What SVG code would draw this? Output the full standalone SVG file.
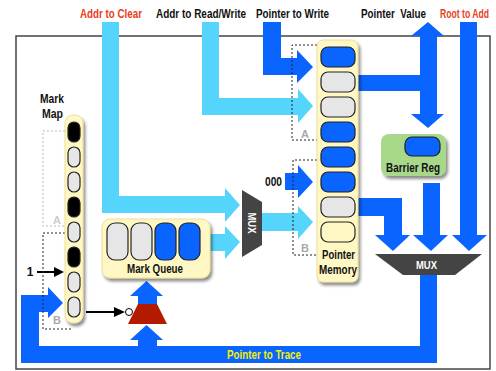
<svg xmlns="http://www.w3.org/2000/svg" width="496" height="371" viewBox="0 0 496 371">
<defs>
<filter id="sh" x="-20%" y="-20%" width="160%" height="160%"><feDropShadow dx="2" dy="3" stdDeviation="1.8" flood-color="#000" flood-opacity="0.45"/></filter>
<style>
.t{font-family:"Liberation Sans",Arial,sans-serif;font-weight:bold;font-size:12px;fill:#111}
.red{fill:#e8401c}
.lb{fill:#55d4fc}
.b{fill:#0a64ff}
.cellG{fill:#e6e6e6;stroke:#222;stroke-width:1.2}
.cellB{fill:#0a64ff;stroke:#222;stroke-width:1.2}
.cellK{fill:#000;stroke:#222;stroke-width:1.2}
.cellY{fill:#fff8c4;stroke:#222;stroke-width:1.2}
.yel{fill:#fff8c4;stroke:#e6d98a;stroke-width:0.8}
.dash{fill:none;stroke:#222;stroke-width:1;stroke-dasharray:2,2}
.ldash{fill:none;stroke:#bbb;stroke-width:1;stroke-dasharray:2,2}
.lbl{font-family:"Liberation Sans",Arial,sans-serif;font-weight:bold;font-size:11px;fill:#aaa}
.mux{fill:#444}
.mt{font-family:"Liberation Sans",Arial,sans-serif;font-weight:bold;font-size:11px;fill:#fff}
</style>
</defs>
<rect x="16" y="36" width="474" height="333" fill="#fff" stroke="#444" stroke-width="1.5"/>

<g id="labels">
<text class="t red" x="80" y="18" textLength="62" lengthAdjust="spacingAndGlyphs">Addr to Clear</text>
<text class="t" x="156" y="18" textLength="90" lengthAdjust="spacingAndGlyphs">Addr to Read/Write</text>
<text class="t" x="256" y="18" textLength="73" lengthAdjust="spacingAndGlyphs">Pointer to Write</text>
<text class="t" x="361" y="18" textLength="65" lengthAdjust="spacingAndGlyphs" xml:space="preserve">Pointer  Value</text>
<g transform="translate(440,18) scale(0.72,1)"><text class="t red" x="0" y="0">Root to Add</text></g>
</g>

<g id="connectors">
<polygon class="lb" points="102,22 119,22 119,196 225,196 225,188 240,205 225,222 225,213 102,213"/>
<polygon class="lb" points="202,22 219,22 219,98 298,98 298,89 313,106 298,123 298,115 202,115"/>
<polygon class="b" points="263,22 281,22 281,58 297,58 297,50 313,67 297,83 297,75 263,75"/>
<polygon class="lb" points="205,234 225,234 225,226 240,242 225,259 225,251 205,251"/>
<polygon class="lb" points="262,213 298,213 298,206 313,222 298,239 298,231 262,231"/>
<polygon class="b" points="285,173 298,173 298,165 313,182 298,198 298,190 285,190"/>
<rect class="b" x="356" y="75" width="66" height="16"/>
<polygon class="b" points="428,22 444,36 437,36 437,114 444,114 428,128 411,114 420,114 420,36 411,36"/>
<polygon class="b" points="356,198 402,198 402,235 410,235 393,251 375,235 384,235 384,216 356,216"/>
<polygon class="b" points="423,183 440,183 440,235 448,235 431,251 413,235 423,235"/>
<polygon class="b" points="460,22 477,22 477,235 487,235 469,251 452,235 460,235"/>
<polygon class="b" points="420,274 437,274 437,363 21,363 21,295 48,295 48,287 63,303 48,318 48,312 39,312 39,346 420,346"/>
<polygon class="b" points="138,304 138,296 130,296 146.5,281 163,296 157,296 157,304"/>
<polygon class="b" points="138,346 138,340 130,340 146.5,325 163,340 157,340 157,346"/>
<line x1="86" y1="312" x2="116" y2="312" stroke="#000" stroke-width="2"/>
<polygon points="114,307 125,312 114,317" fill="#000"/>
<line x1="37" y1="272" x2="55" y2="272" stroke="#000" stroke-width="2"/>
<polygon points="54,267 64,272 54,277" fill="#000"/>
<text class="t" x="30" y="276" text-anchor="middle">1</text>
<text class="t" x="265" y="186" textLength="17" lengthAdjust="spacingAndGlyphs">000</text>
<text class="t" x="227" y="359" textLength="74" lengthAdjust="spacingAndGlyphs" style="fill:#f4f000">Pointer to Trace</text>
</g>

<g id="gate">
<polygon points="138,304 157,304 167,324 128,324" fill="#b31a00"/>
<circle cx="129" cy="312" r="3.5" fill="#fff" stroke="#000" stroke-width="1"/>
</g>

<g id="mark-map">
<path class="ldash" d="M65,131 H43 V226 H65"/>
<text class="lbl" x="57" y="224" text-anchor="middle" style="fill:#ccc">A</text>
<path class="dash" d="M65,233 H43 V329 H72"/>
<text class="lbl" x="57" y="324" text-anchor="middle">B</text>
<rect class="yel" x="65" y="115" width="18" height="208" rx="8" filter="url(#sh)"/>
<rect class="cellK" x="68" y="122" width="12" height="20" rx="6"/>
<rect class="cellG" x="68" y="147" width="12" height="20" rx="6"/>
<rect class="cellG" x="68" y="172" width="12" height="20" rx="6"/>
<rect class="cellK" x="68" y="197" width="12" height="20" rx="6"/>
<rect class="cellG" x="68" y="222" width="12" height="20" rx="6"/>
<rect class="cellK" x="68" y="247" width="12" height="20" rx="6"/>
<rect class="cellG" x="68" y="272" width="12" height="20" rx="6"/>
<rect class="cellG" x="68" y="297" width="12" height="20" rx="6"/>
<text class="t" x="40" y="103" textLength="24" lengthAdjust="spacingAndGlyphs">Mark</text>
<text class="t" x="42" y="118" textLength="21" lengthAdjust="spacingAndGlyphs">Map</text>
</g>

<g id="mark-queue">
<rect class="yel" x="102" y="219" width="108" height="59" rx="8" filter="url(#sh)"/>
<rect class="cellG" x="107" y="223" width="21" height="37" rx="8"/>
<rect class="cellG" x="131" y="223" width="21" height="37" rx="8"/>
<rect class="cellB" x="155" y="223" width="21" height="37" rx="8"/>
<rect class="cellB" x="179" y="223" width="21" height="37" rx="8"/>
<text class="t" x="127" y="273" textLength="56" lengthAdjust="spacingAndGlyphs">Mark Queue</text>
</g>

<g id="mux-left">
<polygon class="mux" points="242,190 262,202 262,245 242,257"/>
<text class="mt" x="241.5" y="227" transform="rotate(90 252 223)" textLength="21" lengthAdjust="spacingAndGlyphs">MUX</text>
</g>

<g id="pointer-memory">
<path class="dash" d="M317,45 H292 V140 H317"/>
<text class="lbl" x="305" y="138" text-anchor="middle">A</text>
<path class="dash" d="M317,160 H293 V255 H317"/>
<text class="lbl" x="305" y="252" text-anchor="middle">B</text>
<rect class="yel" x="317" y="40" width="41" height="242" rx="6" filter="url(#sh)"/>
<rect class="cellB" x="321" y="47" width="34" height="20" rx="7"/>
<rect class="cellG" x="321" y="72" width="34" height="20" rx="7"/>
<rect class="cellG" x="321" y="97" width="34" height="20" rx="7"/>
<rect class="cellB" x="321" y="122" width="34" height="20" rx="7"/>
<rect class="cellB" x="321" y="147" width="34" height="20" rx="7"/>
<rect class="cellB" x="321" y="172" width="34" height="20" rx="7"/>
<rect class="cellG" x="321" y="197" width="34" height="20" rx="7"/>
<rect class="cellY" x="321" y="222" width="34" height="20" rx="7"/>
<text class="t" x="322" y="259" textLength="33" lengthAdjust="spacingAndGlyphs">Pointer</text>
<text class="t" x="319" y="274" textLength="38" lengthAdjust="spacingAndGlyphs">Memory</text>
</g>

<g id="barrier-reg">
<rect x="381" y="134" width="65" height="42" rx="8" fill="#a8d88a" filter="url(#sh)"/>
<rect class="cellB" x="405" y="137" width="35" height="19" rx="7"/>
<text class="t" x="386" y="172" textLength="54" lengthAdjust="spacingAndGlyphs">Barrier Reg</text>
</g>

<g id="mux-right">
<polygon class="mux" points="375,254 482,254 455,275 403,275"/>
<text class="mt" x="416" y="269" textLength="21" lengthAdjust="spacingAndGlyphs">MUX</text>
</g>
</svg>
